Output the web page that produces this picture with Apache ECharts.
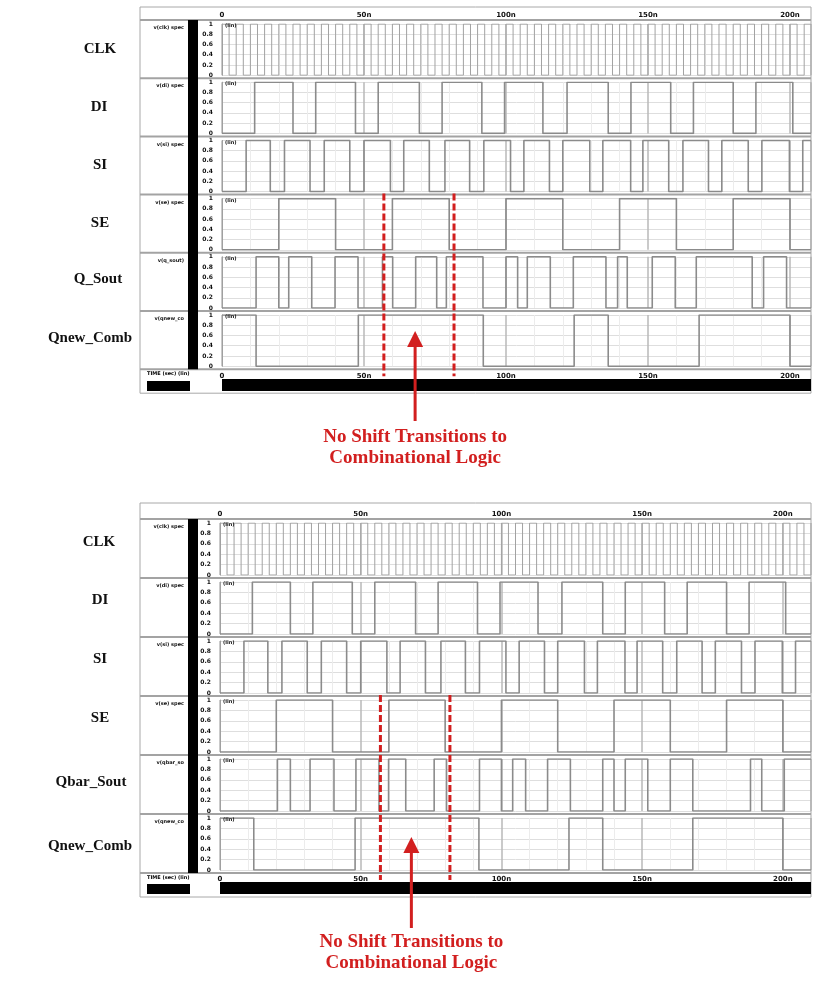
<!DOCTYPE html>
<html>
<head>
<meta charset="utf-8">
<script src="https://cdn.jsdelivr.net/npm/echarts@6/dist/echarts.min.js"></script>
<style>
  html, body { margin: 0; padding: 0; background: #fff; }
  #main { width: 817px; height: 988px; }
</style>
</head>
<body>
<div id="main"></div>
<script>
// ---- data (times in ns) ----
const timeTicks = ['0', '50n', '100n', '150n', '200n'];
const yTicks = ['0', '0.2', '0.4', '0.6', '0.8', '1'];
const topNames = ['CLK', 'DI', 'SI', 'SE', 'Q_Sout', 'Qnew_Comb'];
const bottomNames = ['CLK', 'DI', 'SI', 'SE', 'Qbar_Sout', 'Qnew_Comb'];
const topTags = ['v(clk) spec', 'v(di) spec', 'v(si) spec', 'v(se) spec', 'v(q_sout)', 'v(qnew_co'];
const bottomTags = ['v(clk) spec', 'v(di) spec', 'v(si) spec', 'v(se) spec', 'v(qbar_so', 'v(qnew_co'];

// each signal: level at t=0, then the times where it toggles
const clkStart = 1;
const clkEdges = [2.5, 5, 7.5, 10, 12.5, 15, 17.5, 20, 22.5, 25, 27.5, 30, 32.5, 35, 37.5, 40,
  42.5, 45, 47.5, 50, 52.5, 55, 57.5, 60, 62.5, 65, 67.5, 70, 72.5, 75, 77.5, 80,
  82.5, 85, 87.5, 90, 92.5, 95, 97.5, 100, 102.5, 105, 107.5, 110, 112.5, 115, 117.5, 120,
  122.5, 125, 127.5, 130, 132.5, 135, 137.5, 140, 142.5, 145, 147.5, 150, 152.5, 155, 157.5, 160,
  162.5, 165, 167.5, 170, 172.5, 175, 177.5, 180, 182.5, 185, 187.5, 190, 192.5, 195, 197.5, 200,
  202.5, 205, 207.5];
const diStart = 0;
const diEdges = [11.5, 25, 33, 47, 55, 69.5, 77.5, 91.5, 99.5, 113, 121.5, 136, 144, 158, 166, 180, 188, 201];
const siStart = 0;
const siEdges = [8.5, 17, 22, 31, 36, 45, 50, 59.3, 64, 73, 78.5, 87.2, 92.2, 101.6, 106.3, 115.3, 120,
  129.5, 134.1, 143.9, 148.2, 157.3, 162.3, 171.3, 176, 185.3, 190.1, 199.8, 204.5];
const seStart = 0;
const seEdges = [20, 40, 60, 80, 100, 120, 140, 160, 180, 200];
const qSoutStart = 0;
const qSoutEdges = [12, 20, 23.5, 31.6, 39.8, 47.9, 56.5, 60.1, 68.2, 75.6, 79, 91.9, 100, 104.1, 107.5,
  115.6, 123.7, 135.2, 139.3, 142.7, 151.5, 159.6, 167, 186.7, 190.7, 198.8];
const qbarSoutStart = 0;
const qbarSoutEdges = [20.4, 25, 32, 40.5, 48.3, 56.5, 59.9, 66, 76.1, 80.5, 92.2, 100, 104, 108.6,
  116.4, 124.5, 136, 140, 144, 152, 160, 168, 188.5, 192.5, 200.5];
const qnewStart = 1;
const qnewEdges = [12, 48, 92, 124, 136, 168, 200];

// "no shift" window marked by the red dashed lines, and where the arrow sits
const shiftWindow = [57, 81.7];
const arrowTime = 68;
const noteLines = ['No Shift Transitions to', 'Combinational Logic'];

// ---- helpers ----
function stepPoints(start, edges, end) {
  const pts = [[0, start]];
  let lv = start;
  edges.forEach(function (t) {
    if (t > end) return;
    pts.push([t, lv]);
    lv = 1 - lv;
    pts.push([t, lv]);
  });
  pts.push([end, lv]);
  return pts;
}

const topTraces = [
  [clkStart, clkEdges], [diStart, diEdges], [siStart, siEdges],
  [seStart, seEdges], [qSoutStart, qSoutEdges], [qnewStart, qnewEdges]
];
const bottomTraces = [
  [clkStart, clkEdges], [diStart, diEdges], [siStart, siEdges],
  [seStart, seEdges], [qbarSoutStart, qbarSoutEdges], [qnewStart, qnewEdges]
];

const panels = [
  { frameTop: 7, rowTop: 20, rowH: 58.2, x0: 222, xMax: 207.4, names: topNames, tags: topTags, traces: topTraces,
    nameX: [100, 99, 100, 100, 98, 90], nameY: [49, 107, 165, 223, 279, 338],
    barY: 379, arrowHead: 331, arrowEnd: 421, textY: 437 },
  { frameTop: 503, rowTop: 519, rowH: 59, x0: 220, xMax: 210, names: bottomNames, tags: bottomTags, traces: bottomTraces,
    nameX: [99, 100, 100, 100, 91, 90], nameY: [542, 600, 659, 718, 782, 846],
    barY: 882, arrowHead: 837, arrowEnd: 928, textY: 942 }
];

const RIGHT = 811;
const RED = '#d21f1f';

const grids = [], xAxes = [], yAxes = [], series = [], graphics = [];

panels.forEach(function (p) {
  const bottom = p.rowTop + p.rowH * 6;
  // frame
  graphics.push({ type: 'rect', shape: { x: 140, y: p.frameTop, width: RIGHT - 140, height: bottom + 24 - p.frameTop },
    style: { fill: 'none', stroke: '#a8a8a8', lineWidth: 1 }, z: 1 });
  // black vertical bar beside the y labels
  graphics.push({ type: 'rect', shape: { x: 188, y: p.rowTop, width: 10, height: bottom - p.rowTop },
    style: { fill: '#000' }, z: 5 });
  // time bars at the foot
  graphics.push({ type: 'rect', shape: { x: 147, y: p.barY + 2, width: 43, height: 10 }, style: { fill: '#000' }, z: 5 });
  graphics.push({ type: 'rect', shape: { x: p.x0, y: p.barY, width: RIGHT - p.x0, height: 12 }, style: { fill: '#000' }, z: 5 });
  graphics.push({ type: 'text', x: 147, y: bottom + 2, style: { text: 'TIME (sec) (lin)', font: 'bold 5px "DejaVu Sans"', fill: '#000' }, z: 5 });

  for (let i = 0; i <= 6; i++) {
    const y = p.rowTop + p.rowH * i;
    graphics.push({ type: 'line', shape: { x1: 140, y1: y, x2: RIGHT, y2: y },
      style: { stroke: '#a3a3a3', lineWidth: 2 }, z: 4 });
  }

  p.names.forEach(function (name, i) {
    const gi = grids.length;
    const top = p.rowTop + p.rowH * i;
    grids.push({ left: p.x0, width: RIGHT - p.x0, top: top + 4, height: p.rowH - 7 });
    const isFirst = i === 0, isLast = i === p.names.length - 1;
    xAxes.push({
      type: 'value', gridIndex: gi, min: 0, max: p.xMax, interval: 50,
      position: isFirst ? 'top' : 'bottom',
      axisLine: { show: false },
      axisTick: { show: false },
      minorTick: { show: false },
      minorSplitLine: { show: true, lineStyle: { color: '#ececec', width: 1 } },
      splitLine: { show: true, lineStyle: { color: '#b9b9b9', width: 1.5 } },
      axisLabel: {
        show: isFirst || isLast, fontSize: 7, fontWeight: 'bold', color: '#111', margin: isFirst ? 5 : 6,
        fontFamily: 'DejaVu Sans', showMaxLabel: false,
        formatter: function (v) { return timeTicks[Math.round(v / 50)] || ''; }
      }
    });
    yAxes.push({
      type: 'value', gridIndex: gi, min: 0, max: 1, interval: 0.2,
      axisLine: { show: true, lineStyle: { color: '#a0a0a0', width: 1 } },
      axisTick: { show: false },
      splitLine: { show: true, lineStyle: { color: '#dedede', width: 1 } },
      axisLabel: {
        fontSize: 6, fontWeight: 'bold', color: '#111', margin: 9, fontFamily: 'DejaVu Sans',
        formatter: function (v) { return yTicks[Math.round(v * 5)]; }
      }
    });
    const tr = p.traces[i];
    series.push({
      type: 'line', xAxisIndex: gi, yAxisIndex: gi, data: stepPoints(tr[0], tr[1], p.xMax),
      showSymbol: false, animation: false, silent: true,
      lineStyle: { color: i === 0 ? '#a2a2a2' : '#8b8b8b', width: i === 0 ? 1 : 1.6 }, z: 3
    });
    // names on the left
    graphics.push({ type: 'text', x: p.nameX[i], y: p.nameY[i], style: { text: name, font: 'bold 15px "Liberation Serif"',
      fill: '#111', align: 'center', verticalAlign: 'middle' }, z: 5 });
    graphics.push({ type: 'text', x: 184, y: top + 8, style: { text: p.tags[i], font: 'bold 5px "DejaVu Sans"',
      fill: '#111', align: 'right', verticalAlign: 'middle' }, z: 5 });
    graphics.push({ type: 'text', x: p.x0 + 3, y: top + 6, style: { text: '(lin)', font: 'bold 5px "DejaVu Sans"',
      fill: '#111', verticalAlign: 'middle' }, z: 5 });
  });
});

const chart = echarts.init(document.getElementById('main'), null, { renderer: 'canvas' });
chart.setOption({
  backgroundColor: '#fff',
  animation: false,
  grid: grids, xAxis: xAxes, yAxis: yAxes, series: series,
  graphic: graphics
});

// red annotations, placed through the axes
const extra = [];
panels.forEach(function (p, pi) {
  const seGrid = pi * 6 + 3;
  const yStart = p.rowTop + p.rowH * 3 - 1;
  const yEnd = p.rowTop + p.rowH * 6 + 7;
  shiftWindow.forEach(function (t) {
    const x = chart.convertToPixel({ xAxisIndex: seGrid, yAxisIndex: seGrid }, [t, 0])[0];
    extra.push({ type: 'line', shape: { x1: x, y1: yStart, x2: x, y2: yEnd },
      style: { stroke: RED, lineWidth: 3, lineDash: [7, 3] }, z: 10 });
  });
  const ax = chart.convertToPixel({ xAxisIndex: seGrid, yAxisIndex: seGrid }, [arrowTime, 0])[0];
  extra.push({ type: 'line', shape: { x1: ax, y1: p.arrowHead + 14, x2: ax, y2: p.arrowEnd },
    style: { stroke: RED, lineWidth: 3 }, z: 10 });
  extra.push({ type: 'polygon', shape: { points: [[ax - 8, p.arrowHead + 16], [ax + 8, p.arrowHead + 16], [ax, p.arrowHead]] },
    style: { fill: RED }, z: 10 });
  noteLines.forEach(function (line, k) {
    extra.push({ type: 'text', x: ax, y: p.textY + k * 21, style: { text: line, font: 'bold 19px "Liberation Serif"',
      fill: RED, align: 'center', verticalAlign: 'middle' }, z: 10 });
  });
});
chart.setOption({ graphic: graphics.concat(extra) });
</script>
</body>
</html>
